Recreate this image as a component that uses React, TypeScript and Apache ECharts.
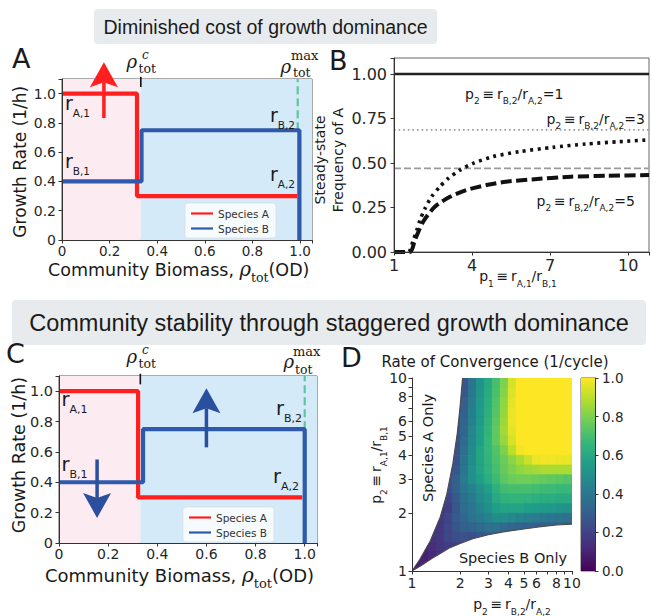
import React, { useEffect, useRef } from 'react';
import * as echarts from 'echarts';

const FONT = 'DejaVu Sans';
const SERIF = 'DejaVu Serif';
const HEAD = 'Liberation Sans';
const INK = '#1a1a1a';
const RED = '#ff1f1f';
const BLUE = '#2f5aab';
const ARROW_BLUE = '#2a4f9f';
const GREEN = '#5fc4a2';
const PINK_BG = '#fdebf2';
const BLUE_BG = '#d5eaf8';

// ---------- Panel A ----------
const rhoCritA = 0.331;
const rhoMaxA = 0.99;
const speciesA_A: number[][] = [[0, 1.0], [0.315, 1.0], [0.315, 0.3], [0.988, 0.3]];
const speciesB_A: number[][] = [[0, 0.4], [0.334, 0.4], [0.334, 0.75], [0.997, 0.75], [0.997, 0]];
const arrowA: number[][] = [[0.176, 0.833, 0.176, 1.215]];

// ---------- Panel C ----------
const rhoCritC = 0.331;
const rhoMaxC = 1.0;
const speciesA_C: number[][] = [[0, 1.0], [0.322, 1.0], [0.322, 0.3], [0.99, 0.3]];
const speciesB_C: number[][] = [[0, 0.4], [0.342, 0.4], [0.342, 0.75], [1.0, 0.75], [1.0, 0]];
const arrowsC: number[][] = [[0.155, 0.55, 0.155, 0.165], [0.6, 0.63, 0.6, 1.02]];

// ---------- Panel B ----------
const p2eq1: number[][] = [[1, 1], [10.8, 1]];
const asymptote3 = 0.686;
const asymptote5 = 0.47;
const p2eq3: number[][] = [[1, 0], [1.55, 0], [1.74, 0.066], [1.87, 0.12], [2.0, 0.18], [2.19, 0.244], [2.44, 0.31], [2.76, 0.367], [3.08, 0.413], [3.53, 0.46], [4.04, 0.498], [4.8, 0.536], [5.83, 0.564], [7.1, 0.588], [8.38, 0.607], [9.66, 0.62], [10.8, 0.63]];
const p2eq5: number[][] = [[1, 0], [1.62, 0], [1.8, 0.066], [2.12, 0.17], [2.57, 0.254], [3.15, 0.31], [3.78, 0.348], [4.55, 0.376], [5.3, 0.395], [6.3, 0.408], [7.8, 0.423], [9.2, 0.428], [10.8, 0.432]];

// ---------- Panel D ----------
const logTicks = [1, 2, 3, 4, 5, 6, 8, 10];
const logMinor = [1, 2, 3, 4, 5, 6, 7, 8, 9, 10];
const boundaryA: number[][] = [[1, 1], [1.12, 1.15], [1.3, 1.43], [1.5, 1.9], [1.65, 2.5], [1.8, 3.6], [1.92, 5.2], [2.0, 7.2], [2.07, 10]];
const boundaryB: number[][] = [[1, 1], [1.15, 1.07], [1.33, 1.16], [1.5, 1.23], [1.7, 1.31], [2, 1.39], [2.4, 1.47], [3, 1.54], [3.8, 1.6], [5, 1.65], [6.2, 1.69], [8, 1.73], [10, 1.75]];
const N = null;
// rows from top (p=10) to bottom (p=1), columns from p=1 to p=10, equal log steps
const convergence: (number | null)[][] = [
  [N, N, N, N, N, N, .27, .39, .51, .60, .70, .80, .94, 1, 1, 1, 1, 1, 1, 1],
  [N, N, N, N, N, N, .27, .40, .52, .61, .71, .81, .95, 1, 1, 1, 1, 1, 1, 1],
  [N, N, N, N, N, .25, .30, .42, .53, .62, .72, .83, .96, 1, 1, 1, 1, 1, 1, 1],
  [N, N, N, N, N, .25, .30, .44, .54, .63, .73, .84, .97, 1, 1, 1, 1, 1, 1, 1],
  [N, N, N, N, N, .25, .32, .44, .54, .64, .74, .85, .97, 1, 1, 1, 1, 1, 1, 1],
  [N, N, N, N, N, .25, .33, .46, .56, .65, .75, .86, .96, 1, 1, 1, 1, 1, 1, 1],
  [N, N, N, N, N, .25, .34, .46, .56, .66, .75, .84, .94, 1, 1, 1, 1, 1, 1, 1],
  [N, N, N, N, N, .25, .36, .48, .58, .66, .72, .80, .90, .98, 1, 1, 1, 1, 1, 1],
  [N, N, N, N, N, .25, .38, .49, .58, .65, .71, .77, .82, .87, .92, .97, .98, .98, .97, .97],
  [N, N, N, N, .25, .27, .39, .50, .58, .64, .70, .76, .80, .83, .85, .86, .87, .87, .87, .87],
  [N, N, N, N, .25, .30, .41, .50, .56, .62, .68, .74, .77, .78, .78, .77, .76, .75, .74, .73],
  [N, N, N, N, .24, .30, .39, .44, .50, .56, .63, .69, .70, .70, .70, .69, .68, .68, .67, .67],
  [N, N, N, N, .21, .28, .36, .41, .48, .52, .60, .64, .65, .65, .64, .63, .62, .62, .61, .61],
  [N, N, N, .17, .19, .27, .35, .39, .45, .50, .56, .58, .58, .58, .56, .55, .54, .53, .52, .51],
  [N, N, N, .17, .21, .28, .33, .38, .41, .45, .49, .49, .47, .45, .43, .42, .40, .39, .38, .37],
  [N, N, .14, .16, .22, .27, .31, .32, .34, .37, .37, .34, .33, .32, .31, .30, .30, .30, .30, .30],
  [N, N, .15, .17, .22, .24, .25, .24, .27, .29, .30, .30, N, N, N, N, N, N, N, N],
  [N, .10, .13, .16, .18, .19, .21, N, N, N, N, N, N, N, N, N, N, N, N, N],
  [.07, .09, .12, .15, N, N, N, N, N, N, N, N, N, N, N, N, N, N, N, N],
  [.08, .11, N, N, N, N, N, N, N, N, N, N, N, N, N, N, N, N, N, N],
];
const colorbarTicks = [0, 0.2, 0.4, 0.6, 0.8, 1.0];
const viridis = ['#440154', '#482878', '#3e4989', '#31688e', '#26828e', '#1f9e89', '#35b779', '#6ece58', '#b5de2b', '#fde725'];

function hexRgb(h: string) {
  return [parseInt(h.slice(1, 3), 16), parseInt(h.slice(3, 5), 16), parseInt(h.slice(5, 7), 16)];
}
function viridisColor(t: number) {
  const v = Math.max(0, Math.min(1, t));
  const s = v * (viridis.length - 1);
  const i = Math.min(viridis.length - 2, Math.floor(s));
  const f = s - i;
  const a = hexRgb(viridis[i]);
  const b = hexRgb(viridis[i + 1]);
  const c = a.map((x, k) => Math.round(x + (b[k] - x) * f));
  return `rgb(${c[0]},${c[1]},${c[2]})`;
}

function buildHeat() {
  const rows = convergence.length;
  const cols = convergence[0].length;
  const out: number[][] = [];
  convergence.forEach((row, r) => row.forEach((v, c) => {
    if (v == null) return;
    out.push([Math.pow(10, c / cols), Math.pow(10, 1 - (r + 1) / rows), Math.pow(10, (c + 1) / cols), Math.pow(10, 1 - r / rows), v]);
  }));
  return out;
}

// ---------- helpers ----------
const fmt1 = (v: number) => (v > 1.01 ? '' : v === 0 ? '0' : v.toFixed(1));

function axisBase(fontSize: number, margin = 5) {
  return {
    axisLine: { show: true, lineStyle: { color: '#333', width: 1 } },
    axisTick: { show: true, length: 3.5, lineStyle: { color: '#333', width: 1 } },
    axisLabel: { color: '#262626', fontSize, fontFamily: FONT, margin },
    splitLine: { show: false },
    z: 10,
  };
}

function bgRender(crit: number, xmax: number) {
  return (params: any, api: any) => {
    const cs = params.coordSys;
    const xc = api.coord([crit, 0])[0];
    const xe = api.coord([xmax, 0])[0];
    return {
      type: 'group',
      children: [
        { type: 'rect', shape: { x: cs.x, y: cs.y, width: xc - cs.x, height: cs.height }, style: { fill: PINK_BG } },
        { type: 'rect', shape: { x: xc, y: cs.y, width: xe - xc, height: cs.height }, style: { fill: BLUE_BG } },
      ],
    };
  };
}

function arrowRender(color: string) {
  return (params: any, api: any) => {
    const p0 = api.coord([api.value(0), api.value(1)]);
    const p1 = api.coord([api.value(2), api.value(3)]);
    const dx = p1[0] - p0[0];
    const dy = p1[1] - p0[1];
    const L = Math.hypot(dx, dy) || 1;
    const ux = dx / L, uy = dy / L, nx = -uy, ny = ux;
    const HL = 25, HW = 14, NOTCH = 5;
    const bx = p1[0] - ux * HL, by = p1[1] - uy * HL;
    const mx = p1[0] - ux * (HL - NOTCH), my = p1[1] - uy * (HL - NOTCH);
    return {
      type: 'group',
      children: [
        { type: 'line', shape: { x1: p0[0], y1: p0[1], x2: mx, y2: my }, style: { stroke: color, lineWidth: 3.5 } },
        { type: 'polygon', shape: { points: [[p1[0], p1[1]], [bx + nx * HW, by + ny * HW], [mx, my], [bx - nx * HW, by - ny * HW]] }, style: { fill: color } },
      ],
    };
  };
}

function stepPanelSeries(g: number, redData: number[][], blueData: number[][], crit: number, rmax: number, arrows: number[][], arrowColor: string) {
  return [
    { type: 'custom', xAxisIndex: g, yAxisIndex: g, renderItem: bgRender(crit, 1.05), data: [[0, 0]], silent: true, z: 1 },
    { name: 'Species A', type: 'line', xAxisIndex: g, yAxisIndex: g, data: redData, showSymbol: false, symbol: 'none', color: RED, lineStyle: { color: RED, width: 4.2 }, z: 3 },
    { name: 'Species B', type: 'line', xAxisIndex: g, yAxisIndex: g, data: blueData, showSymbol: false, symbol: 'none', color: BLUE, lineStyle: { color: BLUE, width: 4.2 }, z: 4 },
    { type: 'line', xAxisIndex: g, yAxisIndex: g, data: [[rmax, 0.75], [rmax, 1.1]], showSymbol: false, symbol: 'none', lineStyle: { color: GREEN, width: 2.2, type: [8, 4] }, z: 3 },
    { type: 'line', xAxisIndex: g, yAxisIndex: g, data: [[crit, 1.045], [crit, 1.115]], clip: false, showSymbol: false, symbol: 'none', lineStyle: { color: '#111', width: 1.6 }, z: 5 },
    { type: 'custom', xAxisIndex: g, yAxisIndex: g, renderItem: arrowRender(arrowColor), data: arrows, dimensions: ['x0', 'y0', 'x1', 'y1'], encode: { x: [0, 2], y: [1, 3] }, clip: false, z: 6, silent: true },
  ];
}

function text(x: number, y: number, t: string, o: any = {}) {
  return {
    type: 'text', x, y, rotation: o.rot || 0, z: 100, silent: true,
    style: {
      text: t, fill: o.fill || INK, fontSize: o.size || 14, fontFamily: o.family || FONT,
      fontStyle: o.italic ? 'italic' : 'normal', align: o.align || 'left', verticalAlign: o.va || 'middle',
      lineHeight: o.lh, rich: o.rich,
    },
  };
}

function subRich(main: number, sub: number, extra = 10) {
  return {
    m: { fontSize: main, fontFamily: FONT, lineHeight: main + extra, fill: INK },
    s: { fontSize: sub, fontFamily: FONT, lineHeight: sub + 1, verticalAlign: 'bottom', fill: INK },
  };
}
const TH = '\u2009';
const pExpr = (pIdx: string, r1: string, r2: string, tail = '') => `{m|p}{s|${pIdx}}{m|${TH}≡${TH}r}{s|${r1}}{m|/r}{s|${r2}}${tail ? `{m|${tail}}` : ''}`;
const rExpr = (sub: string) => `{m|r}{s|${sub}}`;
const biomassExpr = '{a|Community Biomass, }{rho|ρ}{t|tot}{a|(OD)}';
function biomassRich(size: number) {
  return {
    a: { fontSize: size, fontFamily: FONT, lineHeight: 29, fill: INK },
    rho: { fontSize: size + 2, fontFamily: SERIF, fontStyle: 'italic', lineHeight: 29, fill: INK },
    t: { fontSize: size - 5, fontFamily: SERIF, lineHeight: 12, verticalAlign: 'bottom', fill: INK },
  };
}

function rhoLabel(rhoX: number, rhoY: number, supText: string, supX: number, supY: number, subX: number, subY: number, supItalic: boolean) {
  return [
    text(rhoX, rhoY, 'ρ', { family: SERIF, italic: true, size: 18 }),
    text(supX, supY, supText, { family: SERIF, italic: supItalic, size: supItalic ? 12 : 13 }),
    text(subX, subY, 'tot', { family: SERIF, size: 12.5 }),
  ];
}

function buildOption() {
  const heat = buildHeat();
  const legendCommon = {
    orient: 'vertical', data: ['Species A', 'Species B'], icon: 'rect', itemWidth: 22, itemHeight: 2.2, itemGap: 4,
    padding: [5, 7, 4, 6], backgroundColor: 'rgba(255,255,255,0.78)', borderColor: '#d8d8d8', borderWidth: 0.6, borderRadius: 3,
    selectedMode: false, textStyle: { fontSize: 10.5, fontFamily: FONT, color: '#333' },
  };
  const rB = subRich(14, 9, 10);
  const rR = subRich(19, 10.5, 12);
  const rRC = subRich(19.5, 11, 12);

  return {
    animation: false,
    backgroundColor: '#fff',
    grid: [
      { left: 62, top: 79, width: 250, height: 161, show: true, borderColor: '#555', borderWidth: 1, backgroundColor: 'transparent' },
      { left: 394, top: 58, width: 258, height: 194, show: true, borderColor: '#666', borderWidth: 1, backgroundColor: 'transparent' },
      { left: 59, top: 376, width: 258, height: 167, show: true, borderColor: '#555', borderWidth: 1, backgroundColor: 'transparent' },
      { left: 412, top: 378, width: 160, height: 193 },
      { left: 581, top: 378, width: 14, height: 193, show: true, borderColor: '#333', borderWidth: 0.8, backgroundColor: 'transparent' },
    ],
    xAxis: [
      { type: 'value', gridIndex: 0, min: 0, max: 1.05, interval: 0.2, ...axisBase(13.5, 4), axisLabel: { ...axisBase(13.5, 4).axisLabel, formatter: fmt1 } },
      { type: 'value', gridIndex: 1, min: 1, max: 10.8, interval: 3, ...axisBase(16, 5), axisLabel: { ...axisBase(16, 5).axisLabel, formatter: (v: number) => (v > 10.5 ? '' : String(v)) } },
      { type: 'value', gridIndex: 2, min: 0, max: 1.05, interval: 0.2, ...axisBase(14, 4), axisLabel: { ...axisBase(14, 4).axisLabel, formatter: fmt1 } },
      { type: 'log', logBase: 10, gridIndex: 3, min: 1, max: 10, ...axisBase(14, 5), axisLabel: { ...axisBase(14, 5).axisLabel, customValues: logTicks }, axisTick: { ...axisBase(14).axisTick, customValues: logMinor }, minorTick: { show: false } },
      { type: 'category', gridIndex: 4, data: [''], show: false },
    ],
    yAxis: [
      { type: 'value', gridIndex: 0, min: 0, max: 1.1, interval: 0.2, ...axisBase(14, 6), axisLabel: { ...axisBase(14, 6).axisLabel, formatter: fmt1 } },
      { type: 'value', gridIndex: 1, min: 0, max: 1.09, interval: 0.25, ...axisBase(16, 7), axisLabel: { ...axisBase(16, 7).axisLabel, formatter: (v: number) => (v > 1.01 ? '' : v.toFixed(2)) } },
      { type: 'value', gridIndex: 2, min: 0, max: 1.1, interval: 0.2, ...axisBase(14.5, 6), axisLabel: { ...axisBase(14.5, 6).axisLabel, formatter: fmt1 } },
      { type: 'log', logBase: 10, gridIndex: 3, min: 1, max: 10, ...axisBase(14, 5), axisLabel: { ...axisBase(14, 5).axisLabel, customValues: logTicks }, axisTick: { ...axisBase(14).axisTick, customValues: logMinor }, minorTick: { show: false } },
      { type: 'value', gridIndex: 4, min: 0, max: 1, interval: 0.2, position: 'right', ...axisBase(13.5, 7), axisLabel: { ...axisBase(13.5, 7).axisLabel, formatter: (v: number) => (colorbarTicks.some((t) => Math.abs(t - v) < 1e-6) ? v.toFixed(1) : '') } },
    ],
    legend: [
      { ...legendCommon, left: 185, top: 203 },
      { ...legendCommon, left: 183, top: 507 },
    ],
    series: [
      ...stepPanelSeries(0, speciesA_A, speciesB_A, rhoCritA, rhoMaxA, arrowA, RED),
      ...stepPanelSeries(2, speciesA_C, speciesB_C, rhoCritC, rhoMaxC, arrowsC, ARROW_BLUE),
      // Panel B
      { type: 'line', xAxisIndex: 1, yAxisIndex: 1, data: p2eq1, showSymbol: false, symbol: 'none', lineStyle: { color: '#222', width: 2.6 }, z: 3 },
      { type: 'line', xAxisIndex: 1, yAxisIndex: 1, data: [[1, asymptote3], [10.8, asymptote3]], showSymbol: false, symbol: 'none', lineStyle: { color: '#9a9a9a', width: 1.6, type: [1.6, 3] }, z: 2 },
      { type: 'line', xAxisIndex: 1, yAxisIndex: 1, data: [[1, asymptote5], [10.8, asymptote5]], showSymbol: false, symbol: 'none', lineStyle: { color: '#9a9a9a', width: 1.6, type: [7, 3] }, z: 2 },
      { type: 'line', xAxisIndex: 1, yAxisIndex: 1, data: p2eq3, showSymbol: false, symbol: 'none', smooth: 0.25, lineStyle: { color: '#111', width: 3.6, type: [3, 4.5] }, z: 3 },
      { type: 'line', xAxisIndex: 1, yAxisIndex: 1, data: p2eq5, showSymbol: false, symbol: 'none', smooth: 0.25, lineStyle: { color: '#111', width: 4, type: [11, 4.5] }, z: 3 },
      // Panel D heatmap cells
      {
        type: 'custom', xAxisIndex: 3, yAxisIndex: 3, data: heat, dimensions: ['x0', 'y0', 'x1', 'y1', 'v'], encode: { x: [0, 2], y: [1, 3] }, clip: true, silent: true, z: 2,
        renderItem: (params: any, api: any) => {
          const a = api.coord([api.value(0), api.value(1)]);
          const b = api.coord([api.value(2), api.value(3)]);
          const col = viridisColor(api.value(4));
          return { type: 'rect', shape: { x: a[0], y: b[1], width: b[0] - a[0] + 0.6, height: a[1] - b[1] + 0.6 }, style: { fill: col, stroke: col, lineWidth: 0.3 } };
        },
      },
      {
        type: 'custom', xAxisIndex: 3, yAxisIndex: 3, data: [[1, 1]], silent: true, z: 3, clip: true,
        renderItem: (params: any, api: any) => {
          const ptsA = boundaryA.map((p) => api.coord(p));
          const ptsB = boundaryB.map((p) => api.coord(p));
          return {
            type: 'group',
            children: [
              { type: 'polygon', shape: { points: [...ptsA, api.coord([1, 10])] }, style: { fill: '#fff' } },
              { type: 'polygon', shape: { points: [...ptsB, api.coord([10, 1])] }, style: { fill: '#fff' } },
              { type: 'polyline', shape: { points: ptsA }, style: { stroke: '#4a4a4a', lineWidth: 1.1, fill: 'none' } },
              { type: 'polyline', shape: { points: ptsB }, style: { stroke: '#4a4a4a', lineWidth: 1.1, fill: 'none' } },
            ],
          };
        },
      },
      // colorbar
      {
        type: 'bar', xAxisIndex: 4, yAxisIndex: 4, data: [1], barWidth: '100%', silent: true,
        itemStyle: { color: new echarts.graphic.LinearGradient(0, 0, 0, 1, viridis.slice().reverse().map((c, i) => ({ offset: i / (viridis.length - 1), color: c }))) },
      },
    ],
    graphic: [
      // headers
      { type: 'rect', shape: { x: 94, y: 9, width: 343, height: 35, r: 4 }, style: { fill: '#e8ebee' }, z: 90, silent: true },
      text(265.5, 26.5, 'Diminished cost of growth dominance', { family: HEAD, size: 19.5, align: 'center' }),
      { type: 'rect', shape: { x: 12, y: 300, width: 634, height: 45, r: 4 }, style: { fill: '#e8ebee' }, z: 90, silent: true },
      text(329, 323, 'Community stability through staggered growth dominance', { family: HEAD, size: 23.5, align: 'center' }),
      // panel letters
      text(12, 58, 'A', { size: 27 }),
      text(329, 60, 'B', { size: 27 }),
      text(6, 353, 'C', { size: 27 }),
      text(341, 357, 'D', { size: 27 }),
      // Panel A annotations
      ...rhoLabel(126.5, 61.2, 'c', 142, 55, 138.5, 68.2, true),
      ...rhoLabel(280.5, 66.8, 'max', 291, 55.2, 293, 72.8, false),
      text(65, 103, rExpr('A,1'), { rich: rR }),
      text(65, 161, rExpr('B,1'), { rich: rR }),
      text(270, 115, rExpr('B,2'), { rich: rR }),
      text(270, 174, rExpr('A,2'), { rich: rR }),
      text(20, 161.7, 'Growth Rate (1/h)', { size: 17, rot: Math.PI / 2, align: 'center' }),
      text(178.7, 269.5, biomassExpr, { align: 'center', rich: biomassRich(17.5) }),
      // Panel B annotations
      text(329, 160, 'Steady-state\nFrequency of A', { size: 14, rot: Math.PI / 2, align: 'center', lh: 18 }),
      text(465, 93.5, pExpr('2', 'B,2', 'A,2', '=1'), { rich: rB }),
      text(546.5, 118.5, pExpr('2', 'B,2', 'A,2', '=3'), { rich: rB }),
      text(536.5, 200.5, pExpr('2', 'B,2', 'A,2', '=5'), { rich: rB }),
      text(518, 276, pExpr('1', 'A,1', 'B,1'), { align: 'center', rich: rB }),
      // Panel C annotations
      ...rhoLabel(126.5, 356, 'c', 142, 349.6, 138.5, 363, true),
      ...rhoLabel(283.5, 361.8, 'max', 293, 351, 295, 369.8, false),
      text(61.5, 399, rExpr('A,1'), { rich: rRC }),
      text(61.5, 464, rExpr('B,1'), { rich: rRC }),
      text(276, 408, rExpr('B,2'), { rich: rRC }),
      text(273, 476, rExpr('A,2'), { rich: rRC }),
      text(18.5, 455, 'Growth Rate (1/h)', { size: 17.5, rot: Math.PI / 2, align: 'center' }),
      text(179.5, 575, biomassExpr, { align: 'center', rich: biomassRich(18) }),
      // Panel D annotations
      text(495, 361.5, 'Rate of Convergence (1/cycle)', { size: 15, align: 'center' }),
      text(427.5, 448, 'Species A Only', { size: 14.5, rot: Math.PI / 2, align: 'center' }),
      text(513, 557.5, 'Species B Only', { size: 14.5, align: 'center' }),
      text(512, 604, pExpr('2', 'B,2', 'A,2'), { align: 'center', rich: rB }),
      text(376, 465, pExpr('2', 'A,1', 'B,1'), { align: 'center', rot: Math.PI / 2, rich: rB }),
    ],
  };
}

export default function App() {
  const ref = useRef<HTMLDivElement>(null);
  useEffect(() => {
    if (!ref.current) return;
    const chart = echarts.init(ref.current, null, { renderer: 'svg' });
    chart.setOption(buildOption() as any);
    return () => chart.dispose();
  }, []);
  return <div ref={ref} style={{ position: 'absolute', left: 0, top: 0, width: 652, height: 616 }} />;
}
